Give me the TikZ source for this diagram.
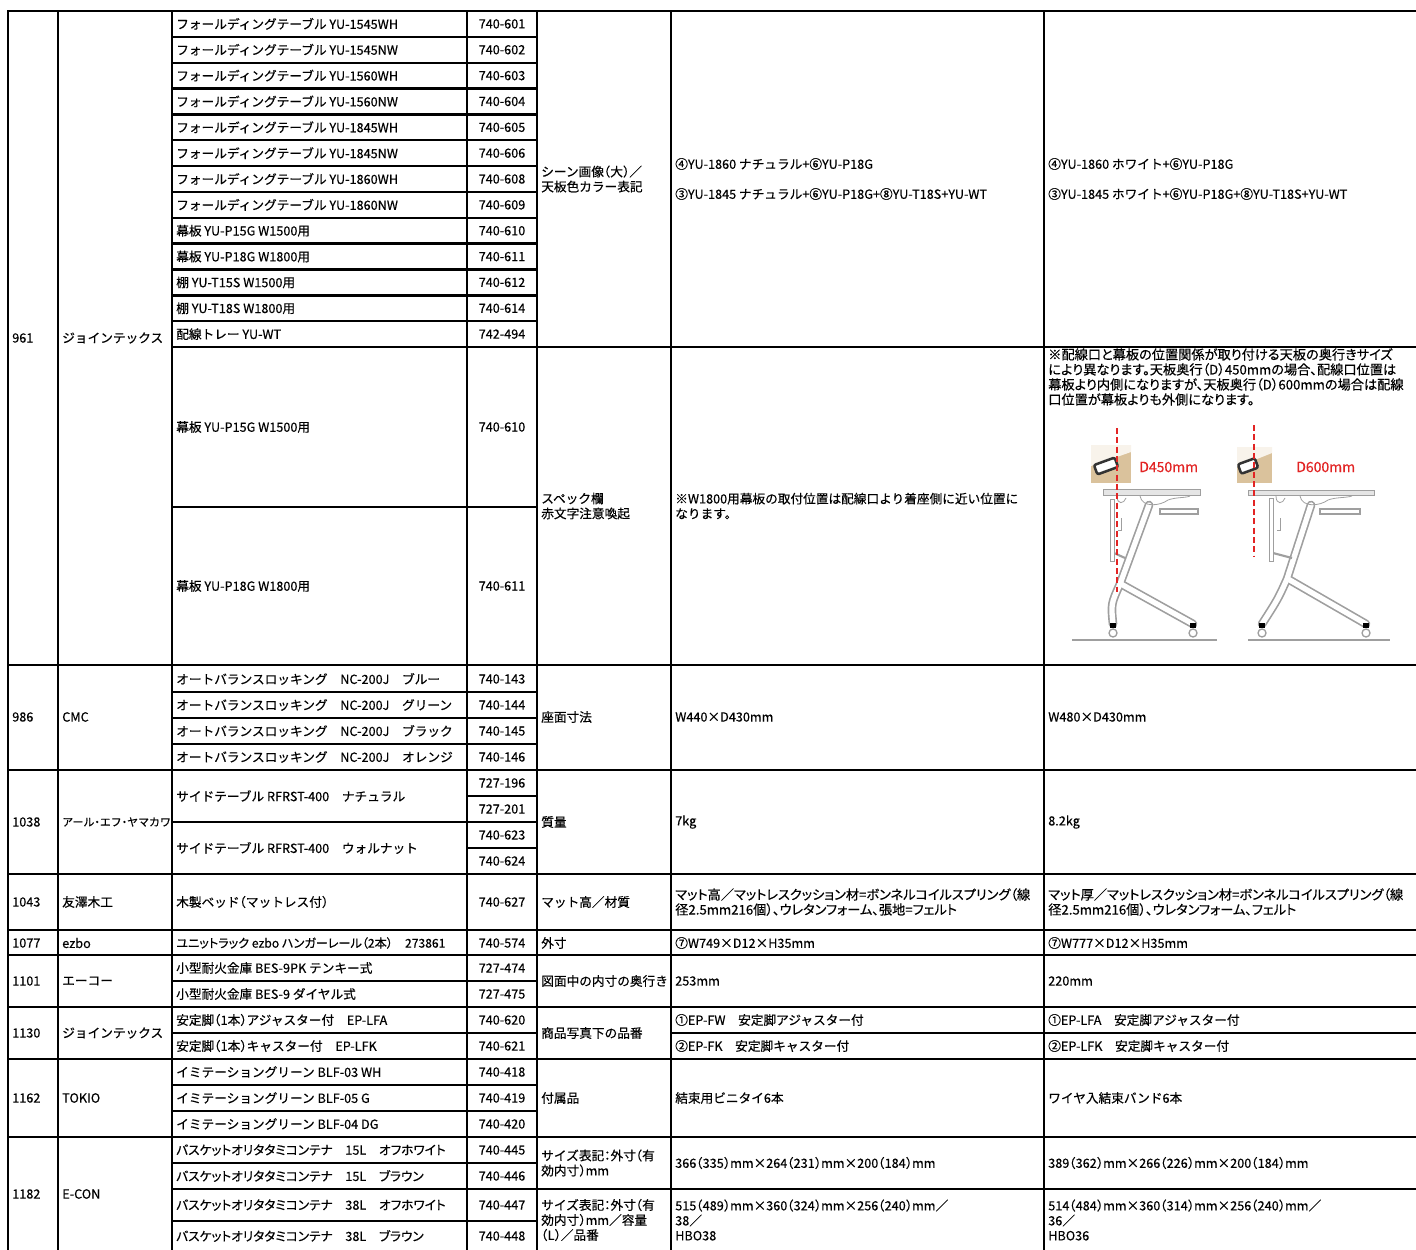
\documentclass[tikz,border=0pt]{standalone}
\usepackage{fontspec}
\setmainfont{Noto Sans CJK JP}[RawFeature=+halt,FakeBold=0.4]
\newfontfamily\tightfont{Noto Sans CJK JP}[RawFeature=+palt,FakeBold=0.4]
\definecolor{notered}{RGB}{226,36,36}
\definecolor{deskwood}{RGB}{218,194,156}
\tikzset{
  cell/.style={anchor=west,inner sep=0pt,font=\fontsize{9.5}{11.25}\selectfont},
  code/.style={anchor=center,inner sep=0pt,font=\fontsize{9.5}{11.25}\selectfont},
  multi/.style={cell,align=left},
  tight/.style={font=\tightfont\fontsize{9.5}{11.25}\selectfont},
  wide/.style={font=\tightfont\fontsize{9.9}{11.25}\selectfont},
  rule/.style={line width=1.8pt,line cap=rect},
  legout/.style={line width=6.5pt,draw=gray!75,line cap=round,line join=round},
  legin/.style={line width=4pt,draw=white,line cap=round,line join=round},
  part/.style={draw=gray!75,line width=0.6pt},
  cutline/.style={draw=notered,line width=1.6pt,dash pattern=on 4.5pt off 2.5pt},
  dlabel/.style={anchor=west,inner sep=0pt,text=notered,font=\fontsize{10.5}{12}\selectfont},
}
\begin{document}
\begin{tikzpicture}[x=0.75pt,y=-0.75pt]
\useasboundingbox (0,0) rectangle (1416,1249);

% grid
\foreach \x in {8,58,172,467,537,671,1044}
  \draw[rule] (\x,11) -- (\x,1252);
\foreach \y in {11,665,770,874,930,955,1007,1059,1137,347,1189}
  \draw[rule] ({\y==347||\y==1189 ? 172 : 8},\y) -- (1418,\y);
\foreach \k in {1,...,12}
  \draw[rule] (172,{11+25.85*\k}) -- (537,{11+25.85*\k});
\foreach \y in {507,692,718,744,822,981,1033,1085,1111,1163,1221}
  \draw[rule] (172,\y) -- (537,\y);
\foreach \y in {796,848}
  \draw[rule] (467,\y) -- (537,\y);
\draw[rule] (671,1033) -- (1418,1033);

% 961
\node[cell] (n961) at (12,338) {961};
\node[cell] (m961) at (62,338) {ジョインテックス};
\foreach \pname/\pcode [count=\k from 0] in {
  フォールディングテーブル YU-1545WH/740-601,
  フォールディングテーブル YU-1545NW/740-602,
  フォールディングテーブル YU-1560WH/740-603,
  フォールディングテーブル YU-1560NW/740-604,
  フォールディングテーブル YU-1845WH/740-605,
  フォールディングテーブル YU-1845NW/740-606,
  フォールディングテーブル YU-1860WH/740-608,
  フォールディングテーブル YU-1860NW/740-609,
  幕板 YU-P15G W1500用/740-610,
  幕板 YU-P18G W1800用/740-611,
  棚 YU-T15S W1500用/740-612,
  棚 YU-T18S W1800用/740-614,
  配線トレー YU-WT/742-494}
{
  \node[cell] (pa\k) at (176,{11+25.85*(\k+0.5)}) {\pname};
  \node[code] (pc\k) at (502,{11+25.85*(\k+0.5)}) {\pcode};
}
\node[cell] (pa13) at (176,427) {幕板 YU-P15G W1500用};
\node[code] (pc13) at (502,427) {740-610};
\node[cell] (pa14) at (176,586) {幕板 YU-P18G W1800用};
\node[code] (pc14) at (502,586) {740-611};
\node[multi] (k961a) at (541,179) {シーン画像（大）／\\天板色カラー表記};
\node[cell] (b961a) at (675,164) {④YU-1860 ナチュラル+⑥YU-P18G};
\node[cell] (b961b) at (675,194) {③YU-1845 ナチュラル+⑥YU-P18G+⑧YU-T18S+YU-WT};
\node[cell] (a961a) at (1048,164) {④YU-1860 ホワイト+⑥YU-P18G};
\node[cell] (a961b) at (1048,194) {③YU-1845 ホワイト+⑥YU-P18G+⑧YU-T18S+YU-WT};
\node[multi] (k961b) at (541,506) {スペック欄\\赤文字注意喚起};
\node[multi] (b961c) at (675,506) {※W1800用幕板の取付位置は配線口より着座側に近い位置に\\なります。};
\node[multi,wide,anchor=north west] (a961c) at (1048,348)
  {※配線口と幕板の位置関係が取り付ける天板の奥行きサイズ\\により異なります。天板奥行（D）450mmの場合、配線口位置は\\幕板より内側になりますが、天板奥行（D）600mmの場合は配線\\口位置が幕板よりも外側になります。};

% table sketches
\fill[deskwood] (1091,445) rectangle (1131,483);
\fill[white!80!deskwood] (1091,445) -- (1131,445) -- (1131,452) -- (1091,466) -- cycle;
\fill[deskwood] (1237,447) rectangle (1272,483);
\fill[white!80!deskwood] (1237,447) -- (1272,447) -- (1272,453) -- (1237,467) -- cycle;
\draw[line width=1.9pt,black!80,fill=white,rounded corners=1.5pt,rotate around={20:(1106,466)}]
  (1095,461) rectangle (1117,471);
\draw[line width=1.9pt,black!80,fill=white,rounded corners=1.5pt,rotate around={20:(1248,466)}]
  (1239,461) rectangle (1257,471);
\foreach \fx/\fy/\rx/\tx/\ty/\px in {1113/1193/1149/1120/584/1112, 1262/1366/1311/1287/579/1271} {
  \draw[legout] (\rx,505) -- (\tx,\ty) .. controls (\tx-9,\ty+20) .. (\fx,624);
  \draw[legout] (\tx+1,\ty) -- (\fy,624);
  \draw[legin] (\rx,505) -- (\tx,\ty) .. controls (\tx-9,\ty+20) .. (\fx,624);
  \draw[legin] (\tx+1,\ty) -- (\fy,624);
  \draw[part,line width=1.6pt] (\px+2,553) -- (\tx+5,558);
  \draw[part] (\px+9,518) -- (\px+9,530) -- (\px+6,530);
  \foreach \cx in {\fx,\fy} {
    \fill[black] (\cx-3,623) rectangle (\cx+3,628);
    \draw[part,line width=1pt,fill=white] (\cx,633) circle (4);
  }
}
\draw[part,fill=white] (1110,499) rectangle (1114,561);
\draw[part,fill=white] (1269,498) rectangle (1273,561);
\draw[part,fill=gray!20] (1103,489) rectangle (1200,495);
\draw[part,fill=gray!20] (1248,490) rectangle (1374,495);
\draw[part] (1140,496) .. controls (1142,508) and (1160,506) .. (1168,500) .. controls (1176,497) and (1186,498) .. (1190,496);
\draw[part] (1300,496) .. controls (1302,508) and (1320,506) .. (1328,500) .. controls (1336,497) and (1346,498) .. (1352,496);
\draw[part] (1117,496) .. controls (1117,505) and (1124,504) .. (1126,498);
\draw[part] (1276,496) .. controls (1276,505) and (1283,504) .. (1285,498);
\draw[part,line width=1pt,fill=white] (1160,509) rectangle (1198,514);
\draw[part,line width=1pt,fill=white] (1320,509) rectangle (1360,514);
\draw[part,line width=0.8pt] (1072,640) -- (1217,640);
\draw[part,line width=0.8pt] (1248,640) -- (1390,640);
\draw[cutline] (1117,428) -- (1117,592);
\draw[cutline] (1254,425) -- (1254,557);
\node[dlabel] (d450) at (1139,467) {D450mm};
\node[dlabel] (d600) at (1296,467) {D600mm};

% 986
\node[cell] (n986) at (12,717) {986};
\node[cell] (m986) at (62,717) {CMC};
\foreach \pname/\pcode [count=\k from 0] in {
  オートバランスロッキング　NC-200J　ブルー/740-143,
  オートバランスロッキング　NC-200J　グリーン/740-144,
  オートバランスロッキング　NC-200J　ブラック/740-145,
  オートバランスロッキング　NC-200J　オレンジ/740-146}
{
  \node[cell] (ca\k) at (176,{679+26*\k}) {\pname};
  \node[code] (cc\k) at (502,{679+26*\k}) {\pcode};
}
\node[cell] (k986) at (541,717) {座面寸法};
\node[cell] (b986) at (675,717) {W440×D430mm};
\node[cell] (a986) at (1048,717) {W480×D430mm};

% 1038
\node[cell] (n1038) at (12,822) {1038};
\node[cell,font=\fontsize{8.2}{9}\selectfont] (m1038) at (62,822) {アール・エフ・ヤマカワ};
\node[cell] (ra0) at (176,796) {サイドテーブル RFRST-400　ナチュラル};
\node[cell] (ra1) at (176,848) {サイドテーブル RFRST-400　ウォルナット};
\foreach \pcode [count=\k from 0] in {727-196,727-201,740-623,740-624}
  \node[code] (rc\k) at (502,{783+26*\k}) {\pcode};
\node[cell] (k1038) at (541,822) {質量};
\node[cell] (b1038) at (675,822) {7kg};
\node[cell] (a1038) at (1048,822) {8.2kg};

% 1043
\node[cell] (n1043) at (12,902) {1043};
\node[cell] (m1043) at (62,902) {友澤木工};
\node[cell] (ba0) at (176,902) {木製ベッド（マットレス付）};
\node[code] (bc0) at (502,902) {740-627};
\node[cell] (k1043) at (541,902) {マット高／材質};
\node[multi,wide] (b1043) at (675,902) {マット高／マットレスクッション材=ボンネルコイルスプリング（線\\径2.5mm216個）、ウレタンフォーム、張地=フェルト};
\node[multi,wide] (a1043) at (1048,902) {マット厚／マットレスクッション材=ボンネルコイルスプリング（線\\径2.5mm216個）、ウレタンフォーム、フェルト};

% 1077
\node[cell] (n1077) at (12,943) {1077};
\node[cell] (m1077) at (62,943) {ezbo};
\node[cell,font=\tightfont\fontsize{9.1}{11}\selectfont] (ua0) at (176,943) {ユニットラック ezbo ハンガーレール（2本）　273861};
\node[code] (uc0) at (502,943) {740-574};
\node[cell] (k1077) at (541,943) {外寸};
\node[cell] (b1077) at (675,943) {⑦W749×D12×H35mm};
\node[cell] (a1077) at (1048,943) {⑦W777×D12×H35mm};

% 1101
\node[cell] (n1101) at (12,981) {1101};
\node[cell] (m1101) at (62,981) {エーコー};
\node[cell] (sa0) at (176,968) {小型耐火金庫 BES-9PK テンキー式};
\node[code] (sc0) at (502,968) {727-474};
\node[cell] (sa1) at (176,994) {小型耐火金庫 BES-9 ダイヤル式};
\node[code] (sc1) at (502,994) {727-475};
\node[cell] (k1101) at (541,981) {図面中の内寸の奥行き};
\node[cell] (b1101) at (675,981) {253mm};
\node[cell] (a1101) at (1048,981) {220mm};

% 1130
\node[cell] (n1130) at (12,1033) {1130};
\node[cell] (m1130) at (62,1033) {ジョインテックス};
\node[cell] (ja0) at (176,1020) {安定脚（1本）アジャスター付　EP-LFA};
\node[code] (jc0) at (502,1020) {740-620};
\node[cell] (ja1) at (176,1046) {安定脚（1本）キャスター付　EP-LFK};
\node[code] (jc1) at (502,1046) {740-621};
\node[cell] (k1130) at (541,1033) {商品写真下の品番};
\node[cell] (b1130a) at (675,1020) {①EP-FW　安定脚アジャスター付};
\node[cell] (b1130b) at (675,1046) {②EP-FK　安定脚キャスター付};
\node[cell] (a1130a) at (1048,1020) {①EP-LFA　安定脚アジャスター付};
\node[cell] (a1130b) at (1048,1046) {②EP-LFK　安定脚キャスター付};

% 1162
\node[cell] (n1162) at (12,1098) {1162};
\node[cell] (m1162) at (62,1098) {TOKIO};
\foreach \pname/\pcode [count=\k from 0] in {
  イミテーショングリーン BLF-03 WH/740-418,
  イミテーショングリーン BLF-05 G/740-419,
  イミテーショングリーン BLF-04 DG/740-420}
{
  \node[cell] (ta\k) at (176,{1072+26*\k}) {\pname};
  \node[code] (tc\k) at (502,{1072+26*\k}) {\pcode};
}
\node[cell] (k1162) at (541,1098) {付属品};
\node[cell] (b1162) at (675,1098) {結束用ビニタイ6本};
\node[cell] (a1162) at (1048,1098) {ワイヤ入結束バンド6本};

% 1182
\node[cell] (n1182) at (12,1194) {1182};
\node[cell] (m1182) at (62,1194) {E-CON};
\foreach \pname/\pcode/\py [count=\k from 0] in {
  バスケットオリタタミコンテナ　15L　オフホワイト/740-445/1150,
  バスケットオリタタミコンテナ　15L　ブラウン/740-446/1176,
  バスケットオリタタミコンテナ　38L　オフホワイト/740-447/1205,
  バスケットオリタタミコンテナ　38L　ブラウン/740-448/1236}
{
  \node[cell,tight] (ea\k) at (176,\py) {\pname};
  \node[code] (ec\k) at (502,\py) {\pcode};
}
\node[multi] (k1182a) at (541,1163) {サイズ表記：外寸（有\\効内寸）mm};
\node[cell] (b1182a) at (675,1163) {366（335）mm×264（231）mm×200（184）mm};
\node[cell] (a1182a) at (1048,1163) {389（362）mm×266（226）mm×200（184）mm};
\node[multi] (k1182b) at (541,1220) {サイズ表記：外寸（有\\効内寸）mm／容量\\（L）／品番};
\node[multi] (b1182b) at (675,1220) {515（489）mm×360（324）mm×256（240）mm／\\38／\\HBO38};
\node[multi] (a1182b) at (1048,1220) {514（484）mm×360（314）mm×256（240）mm／\\36／\\HBO36};
\end{tikzpicture}
\end{document}
